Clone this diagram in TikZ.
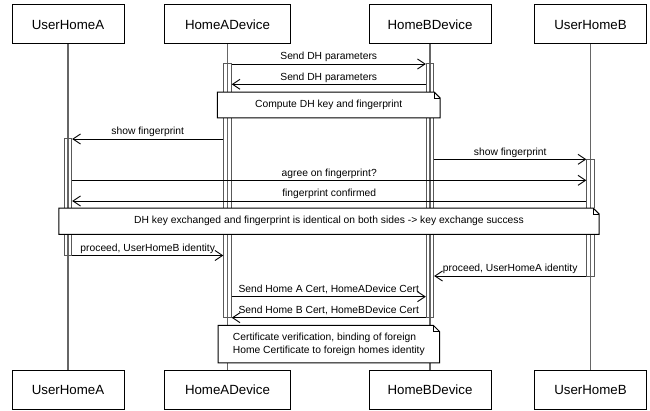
\documentclass[tikz,border=0pt]{standalone}
\usepackage{fontspec}
\setmainfont{Liberation Sans}
\usetikzlibrary{arrows.meta}

\tikzset{
  x=1pt, y=-1pt,
  actor/.style={draw=black, line width=1pt, fill=white, minimum height=39pt,
    inner sep=0pt, font=\fontsize{13.3}{16}\selectfont},
  lifeline/.style={draw=black!60, line width=1.2pt},
  actbar/.style={draw=black!65, line width=1pt, minimum width=7.4pt, inner sep=0pt},
  msg/.style={draw=black, line width=0.9pt,
    -{Straight Barb[length=7.5pt,width=10pt,line width=0.9pt]}},
  lbl/.style={font=\fontsize{10.3}{12.6}\selectfont, anchor=base, yshift=4pt, inner sep=0pt},
  notebox/.style={fill=white, inner sep=0pt, font=\fontsize{10.3}{12.6}\selectfont},
}

% outline of a note with a folded top right corner
\newcommand\notefold[1]{%
  \draw[line width=1pt, line join=miter] (#1.south west) -- (#1.north west)
    -- ([xshift=-6pt]#1.north east) -- ([yshift=-6pt]#1.north east)
    -- (#1.south east) -- cycle;
  \draw[line width=0.8pt] ([xshift=-6pt]#1.north east)
    -- ([xshift=-6pt,yshift=-6pt]#1.north east) -- ([yshift=-6pt]#1.north east);}

\begin{document}
\begin{tikzpicture}
\useasboundingbox (0,0) rectangle (650,411);

% participants, top and bottom
\node[actor, minimum width=112pt] (ua)  at (68,24.5)  {UserHomeA};
\node[actor, minimum width=126pt] (da)  at (227.5,24.5) {HomeADevice};
\node[actor, minimum width=122pt] (db)  at (430,24.5) {HomeBDevice};
\node[actor, minimum width=112pt] (ub)  at (590.5,24.5) {UserHomeB};
\node[actor, minimum width=112pt] (ua2) at (68,390)   {UserHomeA};
\node[actor, minimum width=126pt] (da2) at (227.5,390) {HomeADevice};
\node[actor, minimum width=122pt] (db2) at (430,390)  {HomeBDevice};
\node[actor, minimum width=112pt] (ub2) at (590.5,390) {UserHomeB};

% lifelines
\draw[lifeline] (ua.south) -- (ua2.north);
\draw[lifeline] (da.south) -- (da2.north);
\draw[lifeline] (db.south) -- (db2.north);
\draw[lifeline] (ub.south) -- (ub2.north);

% activation bars
\node[actbar, minimum height=117pt]   (barUA) at (68,197.5)  {};
\node[actbar, minimum height=253.7pt] (barA)  at (227.5,190.85) {};
\node[actbar, minimum height=253.7pt] (barB)  at (430,190.85) {};
\node[actbar, minimum height=117.2pt] (barUB) at (590.5,217.9) {};

% messages
\draw[msg] (barA.east |- 0,64) -- (barB.west |- 0,64)
  node[lbl, midway] {Send DH parameters};
\draw[msg] (barB.west |- 0,84.3) -- (barA.east |- 0,84.3)
  node[lbl, midway] {Send DH parameters};
\draw[msg] (barA.west |- 0,139) -- (barUA.east |- 0,139)
  node[lbl, midway] {show fingerprint};
\draw[msg] (barB.east |- 0,159.3) -- (barUB.west |- 0,159.3)
  node[lbl, midway] {show fingerprint};
\draw[msg] (barUA.east |- 0,180.3) -- (barUB.west |- 0,180.3)
  node[lbl, midway] {agree on fingerprint?};
\draw[msg] (barUB.west |- 0,201) -- (barUA.east |- 0,201)
  node[lbl, midway] {fingerprint confirmed};
\draw[msg] (barUA.east |- 0,255.5) -- (barA.west |- 0,255.5)
  node[lbl, midway] {proceed, UserHomeB identity};
\draw[msg] (barUB.west |- 0,276) -- (barB.east |- 0,276)
  node[lbl, midway] {proceed, UserHomeA identity};
\draw[msg] (barA.east |- 0,296.7) -- (barB.west |- 0,296.7)
  node[lbl, midway] {Send Home A Cert, HomeADevice Cert};
\draw[msg] (barB.west |- 0,317.7) -- (barA.east |- 0,317.7)
  node[lbl, midway] {Send Home B Cert, HomeBDevice Cert};

% notes
\node[notebox, minimum width=222.5pt, minimum height=25.4pt] (n1) at (328.75,105)
  {Compute DH key and fingerprint};
\notefold{n1}
\node[notebox, minimum width=540pt, minimum height=26pt] (n2) at (329,221.3)
  {DH key exchanged and fingerprint is identical on both sides -> key exchange success};
\notefold{n2}
\node[notebox, minimum width=221pt, minimum height=37pt, align=left] (n3) at (328.8,344.2)
  {Certificate verification, binding of foreign\\Home Certificate to foreign homes identity};
\notefold{n3}
\end{tikzpicture}
\end{document}
